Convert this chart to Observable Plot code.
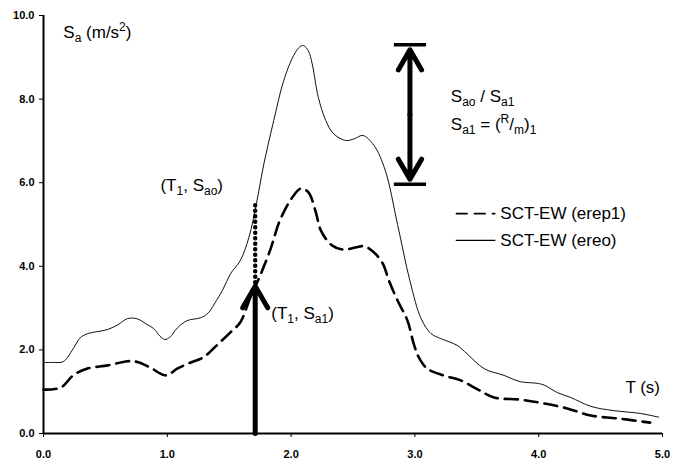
<!DOCTYPE html>
<html>
<head>
<meta charset="utf-8">
<script src="https://cdn.jsdelivr.net/npm/d3@7"></script>
<script src="https://cdn.jsdelivr.net/npm/@observablehq/plot@0.6"></script>
<style>
  html, body { margin: 0; padding: 0; background: #fff; }
  #chart { width: 674px; height: 461px; }
</style>
</head>
<body>
<div id="chart"></div>
<script>
// ---- data ----
const T_ereo = [0.0, 0.08, 0.16, 0.24, 0.30, 0.37, 0.44, 0.52, 0.60, 0.68, 0.76, 0.83, 0.89, 0.94, 0.98, 1.02, 1.08, 1.16, 1.27, 1.33, 1.38, 1.45, 1.51, 1.59, 1.66, 1.72, 1.78, 1.86, 1.94, 2.02, 2.07, 2.10, 2.14, 2.17, 2.22, 2.28, 2.34, 2.44, 2.51, 2.58, 2.67, 2.76, 2.86, 2.96, 3.05, 3.13, 3.21, 3.34, 3.42, 3.56, 3.72, 3.85, 3.99, 4.05, 4.15, 4.26, 4.42, 4.60, 4.82, 4.97];
const Sa_ereo = [1.70, 1.70, 1.72, 2.03, 2.30, 2.40, 2.44, 2.49, 2.60, 2.75, 2.74, 2.62, 2.51, 2.33, 2.25, 2.30, 2.52, 2.70, 2.77, 2.88, 3.10, 3.45, 3.82, 4.14, 4.70, 5.50, 6.45, 7.49, 8.44, 9.04, 9.25, 9.28, 9.15, 8.85, 8.04, 7.49, 7.18, 7.01, 7.05, 7.13, 6.89, 6.30, 5.00, 3.65, 2.75, 2.39, 2.27, 2.11, 1.91, 1.55, 1.39, 1.24, 1.20, 1.15, 0.98, 0.86, 0.65, 0.55, 0.48, 0.39];

const T_erep1 = [0.0, 0.14, 0.24, 0.35, 0.52, 0.68, 0.76, 0.86, 0.99, 1.08, 1.19, 1.29, 1.40, 1.51, 1.59, 1.67, 1.75, 1.83, 1.91, 2.01, 2.08, 2.14, 2.20, 2.24, 2.33, 2.42, 2.52, 2.59, 2.67, 2.74, 2.79, 2.86, 2.94, 2.99, 3.03, 3.10, 3.23, 3.37, 3.51, 3.64, 3.85, 4.04, 4.23, 4.42, 4.64, 4.90];
const Sa_erep1 = [1.05, 1.10, 1.39, 1.55, 1.63, 1.73, 1.71, 1.58, 1.39, 1.55, 1.70, 1.82, 2.11, 2.42, 2.66, 3.25, 3.78, 4.38, 5.10, 5.65, 5.86, 5.77, 5.29, 4.86, 4.50, 4.40, 4.45, 4.48, 4.33, 4.07, 3.66, 3.18, 2.70, 2.15, 1.83, 1.55, 1.39, 1.27, 1.05, 0.86, 0.81, 0.72, 0.60, 0.43, 0.36, 0.26];

const T1 = 1.71, Sao = 5.57, Sa1 = 3.62;
const ratioT = 2.96, ratioTop = 9.30, ratioBottom = 5.96;

const xTicks = [0, 1, 2, 3, 4, 5];
const xTickLabels = ["0.0", "1.0", "2.0", "3.0", "4.0", "5.0"];
const yTicks = [0, 2, 4, 6, 8, 10];
const yTickLabels = ["0.0", "2.0", "4.0", "6.0", "8.0", "10.0"];

const seriesNames = ["SCT-EW (erep1)", "SCT-EW (ereo)"];

// ---- tables ----
const ereo = T_ereo.map((t, i) => ({T: t, Sa: Sa_ereo[i]}));
const erep1 = T_erep1.map((t, i) => ({T: t, Sa: Sa_erep1[i]}));

// annotation anchors (data space)
const notesStart = [
  {x: 0.16, y: 9.45, key: "NOTE_SA"},
  {x: 1.84, y: 2.75, key: "NOTE_T1SA1"},
  {x: 3.29, y: 7.92, key: "NOTE_RATIO"},
  {x: 3.29, y: 7.25, key: "NOTE_RM"}
];
const notesEnd = [
  {x: 1.45, y: 5.80, key: "NOTE_T1SAO"},
  {x: 4.98, y: 0.96, key: "T (s)"}
];
const legend = [
  {x1: 3.33, x2: 3.65, y: 5.26, tx: 3.69, name: seriesNames[0], dashed: true},
  {x1: 3.33, x2: 3.65, y: 4.62, tx: 3.69, name: seriesNames[1], dashed: false}
];
const bars = [
  {x1: ratioT - 0.13, x2: ratioT + 0.13, y: ratioTop},
  {x1: ratioT - 0.13, x2: ratioT + 0.13, y: ratioBottom}
];

const rich = {
  NOTE_SA: [["S"], ["a", "sub"], [" (m/s"], ["2", "sup"], [")"]],
  NOTE_T1SAO: [["(T"], ["1", "sub"], [", S"], ["ao", "sub"], [")"]],
  NOTE_T1SA1: [["(T"], ["1", "sub"], [", S"], ["a1", "sub"], [")"]],
  NOTE_RATIO: [["S"], ["ao", "sub"], [" / S"], ["a1", "sub"]],
  NOTE_RM: [["S"], ["a1", "sub"], [" = ("], ["R", "sup"], ["/"], ["m", "sub"], [")"], ["1", "sub"]]
};

const labelFont = 17;
const textOpts = {x: "x", y: "y", text: "key", lineAnchor: "bottom", fontSize: labelFont, fontWeight: "normal", fill: "#000"};

const chart = Plot.plot({
  width: 674,
  height: 461,
  marginLeft: 43,
  marginRight: 12,
  marginTop: 15,
  marginBottom: 28,
  style: {fontFamily: "'Liberation Sans', Arial, sans-serif", fontSize: "11px", fontWeight: "bold", background: "#fff", color: "#000"},
  x: {type: "linear", domain: [0, 5], ticks: xTicks, tickFormat: d => xTickLabels[xTicks.indexOf(d)], tickSize: 4, tickPadding: 13, label: null},
  y: {type: "linear", domain: [0, 10], ticks: yTicks, tickFormat: d => yTickLabels[yTicks.indexOf(d)], tickSize: 4, tickPadding: 5, label: null},
  marks: [
    Plot.ruleX([0], {stroke: "#000", strokeWidth: 2}),
    Plot.ruleY([0], {stroke: "#000", strokeWidth: 2}),
    Plot.line(ereo, {x: "T", y: "Sa", stroke: "#111", strokeWidth: 1, curve: "catmull-rom"}),
    Plot.line(erep1, {x: "T", y: "Sa", stroke: "#000", strokeWidth: 2.6, strokeDasharray: "13,7", curve: "catmull-rom"}),
    // dotted connector between Sa1 and Sao
    Plot.line([{T: T1, Sa: Sa1}, {T: T1, Sa: Sao}], {x: "T", y: "Sa", stroke: "#000", strokeWidth: 4.5, strokeDasharray: "0,5.5", strokeLinecap: "round"}),
    // thick arrow T1 up to Sa1
    Plot.arrow([{x1: T1, y1: 0, x2: T1, y2: Sa1}], {x1: "x1", y1: "y1", x2: "x2", y2: "y2", stroke: "#000", strokeWidth: 5, headLength: 7.5, insetEnd: 4}),
    // double arrow Sao/Sa1
    Plot.arrow([
      {x1: ratioT, y1: (ratioTop + ratioBottom) / 2, x2: ratioT, y2: ratioTop},
      {x1: ratioT, y1: (ratioTop + ratioBottom) / 2, x2: ratioT, y2: ratioBottom}
    ], {x1: "x1", y1: "y1", x2: "x2", y2: "y2", stroke: "#000", strokeWidth: 5, headLength: 7.5, insetEnd: 5}),
    Plot.link(bars, {x1: "x1", x2: "x2", y1: "y", y2: "y", stroke: "#000", strokeWidth: 3.5}),
    // legend
    Plot.link(legend.filter(d => d.dashed), {x1: "x1", x2: "x2", y1: "y", y2: "y", stroke: "#000", strokeWidth: 1.6, strokeDasharray: "12,6"}),
    Plot.link(legend.filter(d => !d.dashed), {x1: "x1", x2: "x2", y1: "y", y2: "y", stroke: "#000", strokeWidth: 1.2}),
    Plot.text(legend, {x: "tx", y: "y", text: "name", textAnchor: "start", fontSize: labelFont, fontWeight: "normal", fill: "#000"}),
    // annotations
    Plot.text(notesStart, {...textOpts, textAnchor: "start"}),
    Plot.text(notesEnd, {...textOpts, textAnchor: "end"})
  ]
});

function buildRich(parts, base) {
  let cur = 0, out = "";
  const small = Math.round(base * 0.68);
  for (const [txt, mode] of parts) {
    const target = mode === "sub" ? 4 : mode === "sup" ? -7 : 0;
    const dy = target - cur; cur = target;
    const fs = mode ? small : base;
    out += `<tspan dy="${dy}" font-size="${fs}">${txt.replace(/ /g, "\u00a0")}</tspan>`;
  }
  return out;
}
chart.querySelectorAll("text").forEach(t => {
  const k = t.textContent;
  if (rich[k]) t.innerHTML = buildRich(rich[k], labelFont);
});

document.getElementById("chart").appendChild(chart);
</script>
</body>
</html>
